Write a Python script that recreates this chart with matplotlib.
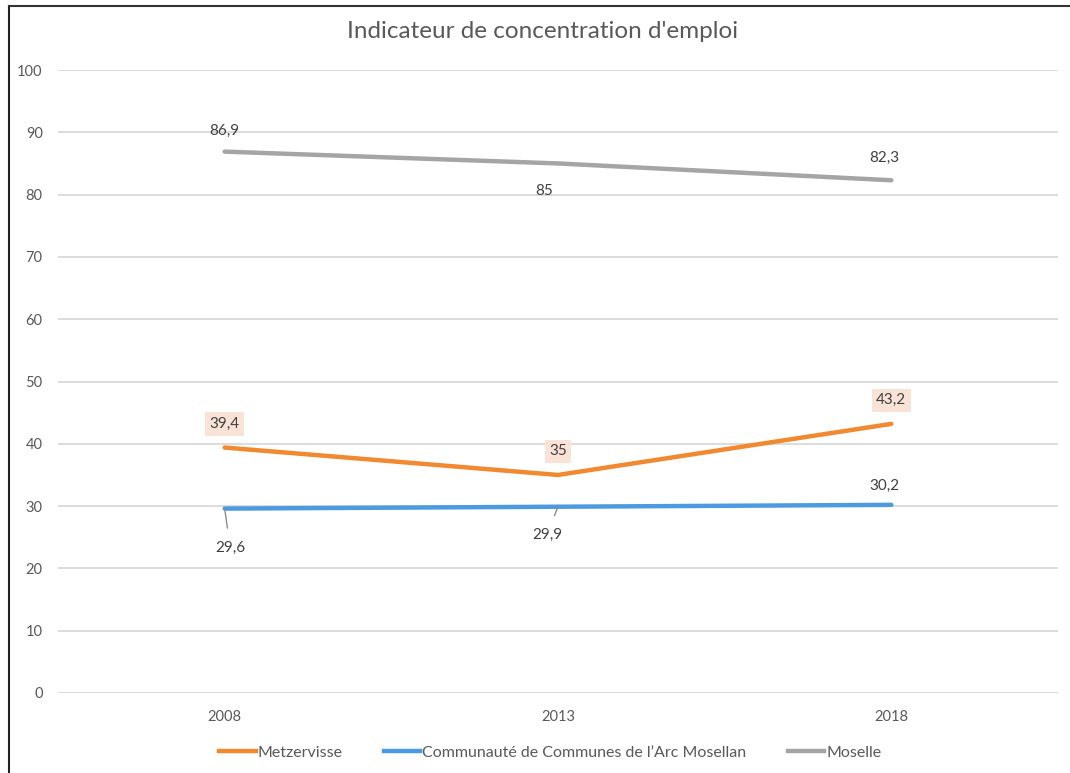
import numpy as np
import matplotlib
matplotlib.use('Agg')
from matplotlib import pyplot as plt
from matplotlib.lines import Line2D

# DATA
YEARS = ['2008', '2013', '2018']
METZERVISSE = [39.4, 35.0, 43.2]
CCAM = [29.6, 29.9, 30.2]
MOSELLE = [86.9, 85.0, 82.3]
SERIES_NAMES = ['Metzervisse', 'Communauté de Communes de l\u2019Arc Mosellan', 'Moselle']
TITLE = "Indicateur de concentration d'emploi"

# STYLES
ORANGE = '#F0892F'
BLUE = '#4C9BE0'
GREY = '#A5A5A5'
TXT = '#404040'
TICK = '#595959'

plt.rcParams['font.family'] = ['Lato', 'DejaVu Sans']


def fmt(v):
    s = ('%.1f' % v).rstrip('0').rstrip('.')
    return s.replace('.', ',')


fig = plt.figure(figsize=(10.7, 7.73), dpi=100)
ax = fig.add_axes([58 / 1070, 1 - 693 / 773, 1000 / 1070, 623 / 773])

x = np.arange(len(YEARS))
ax.plot(x, METZERVISSE, color=ORANGE, lw=3.2, solid_capstyle='round', zorder=3)
ax.plot(x, CCAM, color=BLUE, lw=3.2, solid_capstyle='round', zorder=3)
ax.plot(x, MOSELLE, color=GREY, lw=3.2, solid_capstyle='round', zorder=3)

ax.set_xlim(-0.5, 2.5)
ax.set_ylim(0, 100)
ax.set_yticks(np.arange(0, 101, 10))
ax.set_xticks(x)
ax.set_xticklabels(YEARS)
ax.yaxis.grid(True, color='#D9D9D9', lw=1.3)
ax.set_axisbelow(True)
for s in ax.spines.values():
    s.set_visible(False)
ax.tick_params(axis='both', length=0, labelsize=10.5, labelcolor=TICK)
ax.tick_params(axis='y', pad=11)
ax.tick_params(axis='x', pad=12)

# data labels
lbl = dict(ha='center', va='center', fontsize=11, color=TXT, zorder=5)
box = dict(boxstyle='square,pad=0.3', fc='#F8E3D6', ec='none')
for i, v in enumerate(METZERVISSE):
    ax.annotate(fmt(v), (i, v), xytext=(0, 17), textcoords='offset points',
                bbox=box, **lbl)

# CCAM: two below with leader lines, last one above
ccam_offsets = [(4, -28), (-8, -20), (-5, 14)]
for i, v in enumerate(CCAM):
    dx, dy = ccam_offsets[i]
    if dy < 0:
        ax.annotate(fmt(v), (i, v), xytext=(dx, dy), textcoords='offset points',
                    arrowprops=dict(arrowstyle='-', color='#8C8C8C', lw=1,
                                    shrinkA=7, shrinkB=0), **lbl)
    else:
        ax.annotate(fmt(v), (i, v), xytext=(dx, dy), textcoords='offset points', **lbl)

moselle_offsets = [(0, 15), (-10, -20), (-5, 16)]
for i, v in enumerate(MOSELLE):
    dx, dy = moselle_offsets[i]
    ax.annotate(fmt(v), (i, v), xytext=(dx, dy), textcoords='offset points', **lbl)

fig.text(543 / 1070, 1 - 31 / 773, TITLE, ha='center', va='center',
         fontsize=17.5, color=TICK)

handles = [Line2D([], [], color=c, lw=3.2) for c in (ORANGE, BLUE, GREY)]
fig.legend(handles, SERIES_NAMES, loc='center', bbox_to_anchor=(550 / 1070, 1 - 753 / 773),
           ncol=3, frameon=False, fontsize=11.5, handlelength=2.3, handletextpad=0.1,
           columnspacing=2.6, labelcolor=TICK)

# screenshot frame edges
fig.add_artist(Line2D([9 / 1070, 9 / 1070], [0, 1 - 6 / 773], color='#222222', lw=1.5))
fig.add_artist(Line2D([9 / 1070, 1], [1 - 6 / 773, 1 - 6 / 773], color='#333333', lw=1.5))

fig.savefig('out.png', dpi=100, facecolor='white')
